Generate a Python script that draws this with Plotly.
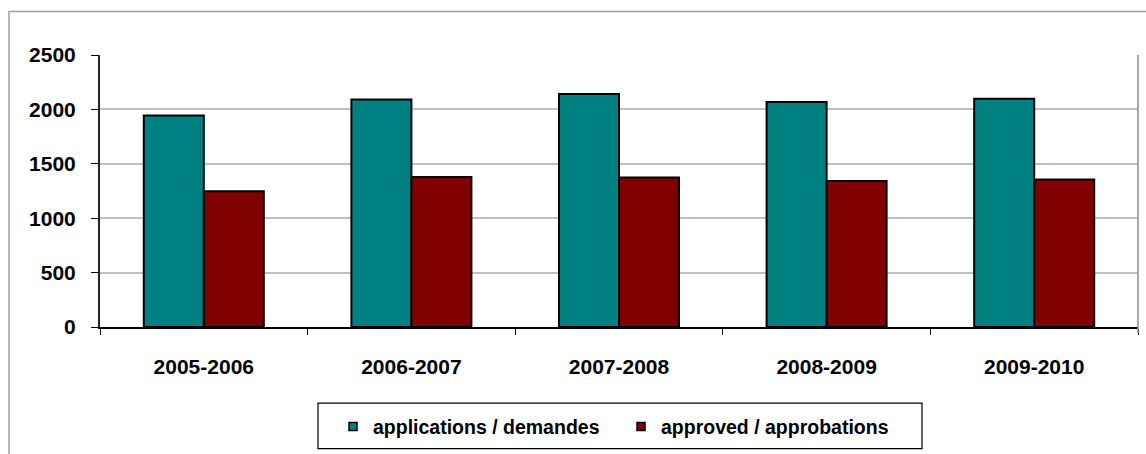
import plotly.graph_objects as go

categories = ["2005-2006", "2006-2007", "2007-2008", "2008-2009", "2009-2010"]
applications = [1945, 2091, 2142, 2067, 2097]
approved = [1248, 1379, 1373, 1342, 1355]
series_names = ["applications / demandes", "approved / approbations"]
series_colors = ["#008080", "#800000"]
y_ticks = [0, 500, 1000, 1500, 2000, 2500]

FONT = "Liberation Sans, Arial, sans-serif"

fig = go.Figure()
for vals, name, col in zip([applications, approved], series_names, series_colors):
    fig.add_trace(go.Bar(x=categories, y=vals, name=name, showlegend=False,
                         marker=dict(color=col, line=dict(color="#000000", width=2))))
# legend entries with small square keys
for name, col in zip(series_names, series_colors):
    fig.add_trace(go.Scatter(x=[None], y=[None], mode="markers", name=name,
                             marker=dict(symbol="square", size=8, color=col,
                                         line=dict(color="#000000", width=1.5))))

L, R, T, B = 100, 8, 55, 124
W, H = 1146, 454
pw, ph = W - L - R, H - T - B

def px(xp):
    return (xp - L) / pw

def py(yp):
    return (H - B - yp) / ph

shapes = [
    # outer chart frame (left + top visible)
    dict(type="rect", xref="paper", yref="paper", x0=px(9), x1=px(1160), y0=py(470), y1=py(11),
         line=dict(color="#a0a0a0", width=1.5), fillcolor="rgba(0,0,0,0)", layer="below"),
    # right border of plot area
    dict(type="line", xref="paper", yref="paper", x0=1, x1=1, y0=py(336), y1=1,
         line=dict(color="#8c8c8c", width=1.5)),
    # legend box
    dict(type="rect", xref="paper", yref="paper", x0=px(318), x1=px(922), y0=py(453), y1=py(407),
         line=dict(color="#000000", width=1.2), fillcolor="rgba(0,0,0,0)"),
]

fig.update_layout(
    width=W, height=H,
    margin=dict(l=L, r=R, t=T, b=B, pad=0),
    paper_bgcolor="white", plot_bgcolor="white",
    barmode="group", bargap=0.422, bargroupgap=0,
    font=dict(family=FONT, size=20, color="#000000"),
    showlegend=True,
    legend=dict(orientation="h", x=px(333), xanchor="left", y=py(431), yanchor="middle",
                font=dict(family=FONT, size=19.5, color="#000000", weight="bold"),
                bgcolor="rgba(0,0,0,0)", borderwidth=0, entrywidth=243,
                itemclick=False, traceorder="normal"),
    shapes=shapes,
    xaxis=dict(showgrid=False, showline=True, linecolor="#000000", linewidth=2,
               ticks="outside", tickson="boundaries", ticklen=6, tickcolor="#000000", tickwidth=1,
               tickfont=dict(family=FONT, size=21, weight="bold"), ticklabelstandoff=20,
               fixedrange=True),
    yaxis=dict(range=[0, 2500], tickvals=y_ticks, showgrid=True, gridcolor="#c0c0c0", gridwidth=2,
               showline=True, linecolor="#222222", linewidth=2, zeroline=False,
               ticks="outside", ticklen=7, tickcolor="#000000", tickwidth=1,
               tickfont=dict(family=FONT, size=21, weight="bold"), ticklabelstandoff=11,
               fixedrange=True),
)

fig.write_html("out.html")
